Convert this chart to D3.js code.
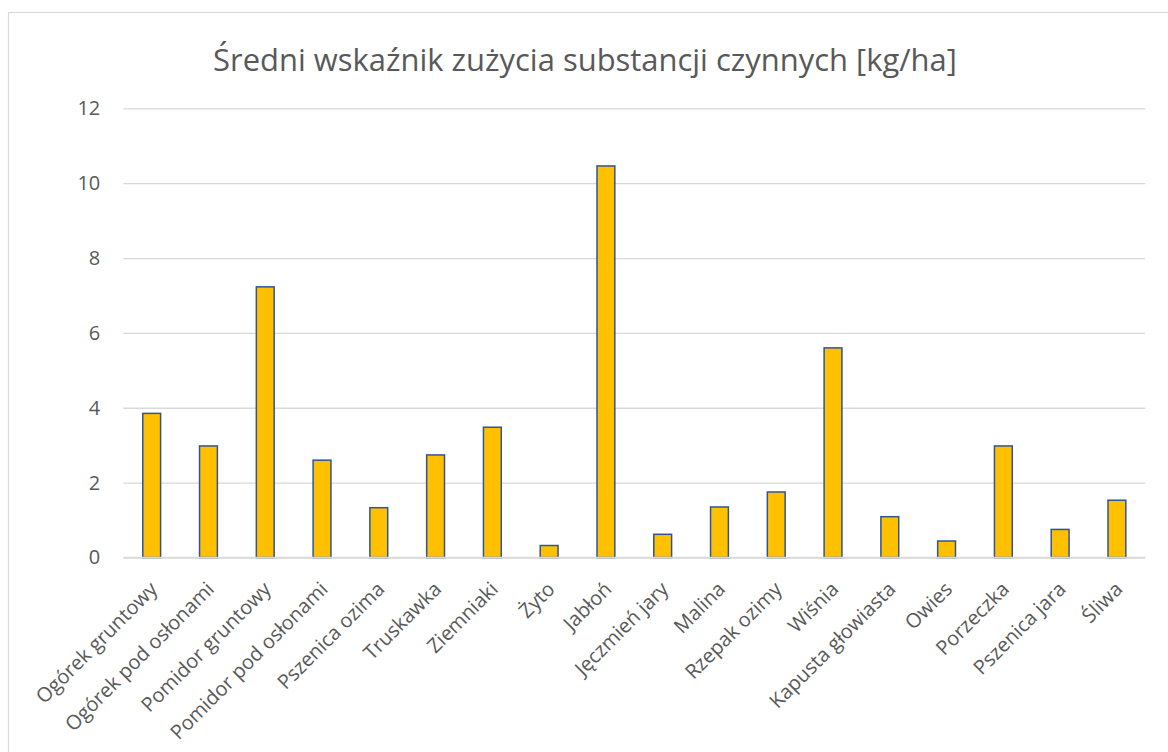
<!DOCTYPE html>
<html lang="pl">
<head>
    <meta charset="UTF-8">
    <title>Średni wskaźnik zużycia substancji czynnych</title>
    <style>
        body { margin: 0; background: #fff; }
    </style>
</head>
<body>
    <script src="https://d3js.org/d3.v7.min.js"></script>
    <div id="container"></div>
    <script>
        var title = 'Średni wskaźnik zużycia substancji czynnych [kg/ha]';
        var crops = ['Ogórek gruntowy', 'Ogórek pod osłonami', 'Pomidor gruntowy', 'Pomidor pod osłonami',
            'Pszenica ozima', 'Truskawka', 'Ziemniaki', 'Żyto', 'Jabłoń', 'Jęczmień jary', 'Malina',
            'Rzepak ozimy', 'Wiśnia', 'Kapusta głowiasta', 'Owies', 'Porzeczka', 'Pszenica jara', 'Śliwa'];
        var usage = [3.85, 2.98, 7.23, 2.60, 1.33, 2.74, 3.48, 0.32, 10.46, 0.62, 1.35,
            1.75, 5.60, 1.09, 0.44, 2.98, 0.75, 1.53];
        var yTicks = [0, 2, 4, 6, 8, 10, 12];

        var W = 1168, H = 752;
        var plot = {left: 123.3, right: 1145.3, top: 108.3, bottom: 557.5};
        var font = '"Open Sans", "Liberation Sans", sans-serif';
        var textColor = '#595959';

        var svg = d3.select('#container').append('svg')
            .attr('width', W).attr('height', H)
            .style('font-family', font);

        // chart frame (right and bottom edges are cut off in the original)
        svg.append('rect')
            .attr('x', 8.5).attr('y', 12.5)
            .attr('width', W + 20).attr('height', H + 20)
            .attr('fill', '#fff').attr('stroke', '#D9D9D9').attr('stroke-width', 1.2);

        var x = d3.scaleBand().domain(crops).range([plot.left, plot.right])
            .paddingInner(0.686).paddingOuter(0.343);
        var y = d3.scaleLinear().domain([0, 12]).range([plot.bottom, plot.top]);

        // fit a font size so that a text gets a wanted width
        function fitSize(str, target, start) {
            var t = svg.append('text').style('font-size', start + 'px').text(str);
            var w = t.node().getComputedTextLength();
            t.remove();
            return start * target / w;
        }
        var tickSize = 20;
        var titleSize = fitSize(title, 744, 28);

        // gridlines + y labels
        var yAxisGroup = svg.append('g').attr('transform', `translate(${plot.left},0)`)
            .call(d3.axisLeft(y).tickValues(yTicks).tickSize(-(plot.right - plot.left)).tickPadding(23));
        yAxisGroup.attr('font-size', null).attr('font-family', null);
        yAxisGroup.select('.domain').remove();
        yAxisGroup.selectAll('.tick line').attr('stroke', '#D9D9D9').attr('stroke-width', 1.3);
        yAxisGroup.selectAll('.tick text')
            .attr('fill', textColor).attr('font-size', tickSize).style('font-family', font);

        // bars
        svg.append('g').selectAll('rect').data(usage).enter()
            .append('rect')
            .attr('x', (d, i) => x(crops[i]))
            .attr('y', d => y(d))
            .attr('width', x.bandwidth())
            .attr('height', d => y(0) - y(d))
            .attr('fill', '#FFC000')
            .attr('stroke', '#2F5597')
            .attr('stroke-width', 1.5);

        // x axis
        var xAxisGroup = svg.append('g').attr('transform', `translate(0,${plot.bottom})`)
            .call(d3.axisBottom(x).tickSize(0).tickPadding(0));
        xAxisGroup.attr('font-size', null).attr('font-family', null);
        xAxisGroup.select('.domain').attr('stroke', '#D9D9D9').attr('stroke-width', 1.3)
            .attr('d', `M${plot.left},0H${plot.right}`);
        xAxisGroup.selectAll('.tick text')
            .attr('fill', textColor).attr('font-size', tickSize).style('font-family', font)
            .attr('text-anchor', 'end')
            .attr('x', 0).attr('y', 0).attr('dy', '0.35em')
            .attr('transform', 'translate(2,28) rotate(-45)');

        // title
        svg.append('text')
            .attr('x', (213 + 957) / 2).attr('y', 71)
            .attr('text-anchor', 'middle')
            .attr('fill', textColor)
            .style('font-size', titleSize + 'px')
            .text(title);
    </script>
</body>
</html>
